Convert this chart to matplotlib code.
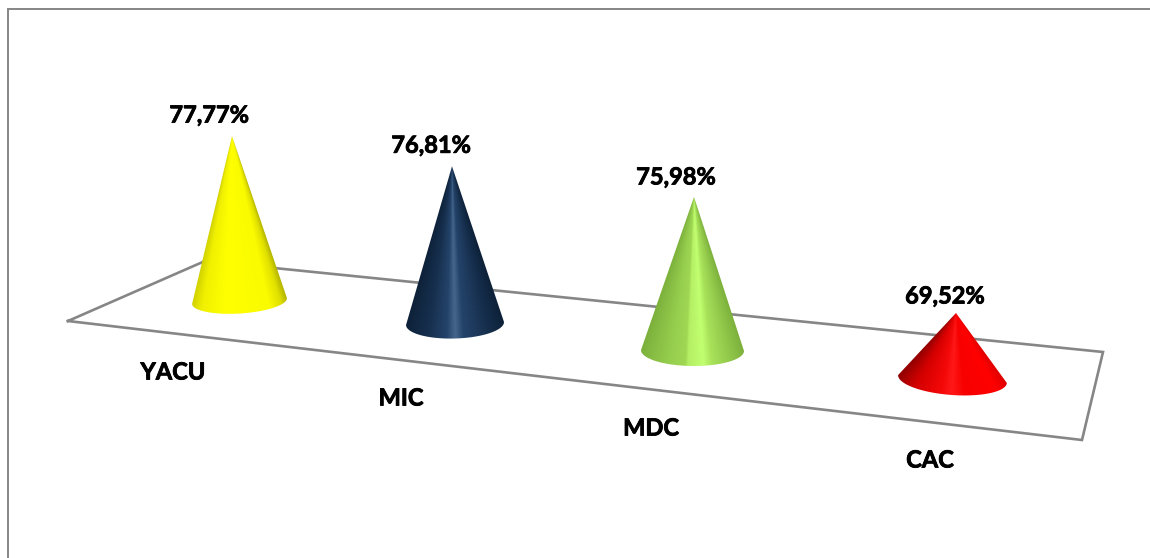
import numpy as np
import matplotlib
matplotlib.use('Agg')
import matplotlib.pyplot as plt
import matplotlib.patheffects as pe
from matplotlib.colors import LinearSegmentedColormap
from matplotlib.patches import PathPatch, Rectangle
from matplotlib.path import Path

# data
categories = ['YACU', 'MIC', 'MDC', 'CAC']
values = [77.77, 76.81, 75.98, 69.52]
value_labels = ['77,77%', '76,81%', '75,98%', '69,52%']

# floor of the 3D chart, pixel positions
floor_x = [68, 205, 1103, 1082, 68]
floor_y = [321, 261, 352, 440, 321]

# cone layout: base centre, half width, half height of the base, tilt, apex lean
base_x = [239.5, 455, 692.5, 952.5]
base_y = [301, 323.5, 350.5, 379]
half_w = [47.5, 49, 51.5, 54.5]
half_h = [12.5, 15, 15.5, 16]
tilt = [-3.6, -1.8, 0.5, 4.2]
lean = [-7.5, -3, 1.5, 3.5]

# scale of the cones against the value
v_base = 65.1
h_scale = 0.274

# label offsets
value_dx = [-23, -21, -18, -11]
value_dy = [-21, -21, -20, -17]
cat_x = [173, 401, 651, 930]
cat_y = [372, 398, 428, 460]

# gradients around each cone, 0 left edge, 1 right edge
stops = [
    [(0, '#cfcf00'), (0.12, '#f0f000'), (0.35, '#ffff00'), (0.8, '#fbfb00'), (0.93, '#e0e000'), (1, '#b8b800')],
    [(0, '#0d2138'), (0.25, '#17304f'), (0.42, '#24436a'), (0.5, '#46668c'), (0.58, '#24436a'), (0.8, '#17304f'), (1, '#0d2138')],
    [(0, '#7cb03c'), (0.3, '#96cf4e'), (0.44, '#a0d854'), (0.46, '#b4ee64'), (0.6, '#c2ff70'), (0.68, '#a8e25a'), (1, '#7cb03c')],
    [(0, '#960000'), (0.2, '#d40000'), (0.42, '#f40808'), (0.5, '#ff1818'), (0.6, '#f80000'), (0.85, '#ff0000'), (1, '#d80000')],
]

plt.rcParams['font.family'] = ['Lato', 'DejaVu Sans']

fig = plt.figure(figsize=(11.5, 5.58), dpi=100)
ax = fig.add_axes([0, 0, 1, 1])
ax.set_xlim(0, 1150)
ax.set_ylim(558, 0)
ax.axis('off')

# outer frame
ax.add_patch(Rectangle((8, 9), 1160, 570, fc='white', ec='#868686', lw=1.4, zorder=0))

ax.plot(floor_x, floor_y, color='#868686', lw=1.9, zorder=1, solid_joinstyle='miter')

bold = [pe.withStroke(linewidth=0.6, foreground='black')]

for i in range(len(values)):
    height = half_w[i] * h_scale * (values[i] - v_base)
    apex = (base_x[i] + lean[i], base_y[i] - height)

    # outline: apex then the front half of the tilted base ellipse
    phi = np.radians(tilt[i])
    t = np.linspace(0, np.pi, 60)
    ex = base_x[i] + half_w[i] * np.cos(t) * np.cos(phi) - half_h[i] * np.sin(t) * np.sin(phi)
    ey = base_y[i] + half_w[i] * np.cos(t) * np.sin(phi) + half_h[i] * np.sin(t) * np.cos(phi)
    verts = [apex] + list(zip(ex, ey)) + [apex]
    patch = PathPatch(Path(verts), fc='none', ec='none', transform=ax.transData)
    ax.add_patch(patch)

    # shading runs along lines from the apex to the base
    x0, x1 = base_x[i] - half_w[i] - 2, base_x[i] + half_w[i] + 2
    y0, y1 = apex[1] - 1, base_y[i] + half_h[i] + 6
    gx, gy = np.meshgrid(np.linspace(x0, x1, 220), np.linspace(y0, y1, 420))
    frac = np.clip((gy - apex[1]) / height, 0.001, None)
    u = np.clip(((gx - apex[0]) - frac * (base_x[i] - apex[0])) / (frac * half_w[i]), -1, 1) / 2 + 0.5

    cmap = LinearSegmentedColormap.from_list('cone%d' % i, stops[i])
    im = ax.imshow(u, cmap=cmap, vmin=0, vmax=1, aspect='auto', zorder=2, interpolation='bilinear',
                   origin='upper', extent=[x0, x1, y1, y0])
    im.set_clip_path(patch)

    ax.text(apex[0] + value_dx[i], apex[1] + value_dy[i], value_labels[i], ha='center', va='center',
            fontsize=17, fontweight='bold', color='black', zorder=3, path_effects=bold)
    ax.text(cat_x[i], cat_y[i], categories[i], ha='center', va='center',
            fontsize=17, fontweight='bold', color='black', zorder=3, path_effects=bold)

ax.set_xlim(0, 1150)
ax.set_ylim(558, 0)
fig.savefig('out.png', dpi=100)
